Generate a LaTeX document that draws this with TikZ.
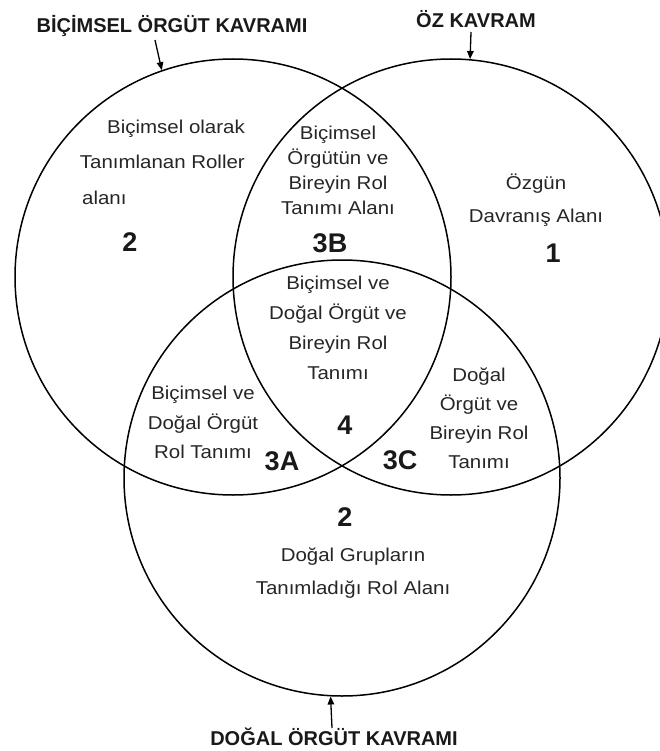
\documentclass[tikz,border=0pt]{standalone}
\usepackage{fontspec}
\setmainfont{Liberation Sans}[FakeStretch=1.1]
\newfontfamily\plainsans{Liberation Sans}
\usetikzlibrary{arrows.meta}
\begin{document}
\begin{tikzpicture}[x=1pt,y=-1pt,
  ring/.style={circle, draw, line width=1.5pt, inner sep=0pt, minimum size=436pt},
  txt/.style={align=center, inner sep=0pt, text=black!85},
  num/.style={font=\plainsans\fontsize{27}{30}\selectfont\bfseries, inner sep=0pt, text=black!90},
  title/.style={font=\plainsans\fontsize{20}{22}\selectfont\bfseries, inner sep=0pt, text=black!90},
  pointer/.style={-{Triangle[length=8pt,width=6.5pt]}, line width=1.3pt}]
\useasboundingbox (0,0) rectangle (659,751);
% circles
\node[ring] (L) at (233,277) {};
\node[ring] (R) at (451,277) {};
\node[ring] (B) at (342,478) {};
% titles and pointers
\node[title] (tL) at (172,26) {BİÇİMSEL ÖRGÜT KAVRAMI};
\node[title] (tR) at (476,19) {ÖZ KAVRAM};
\node[title] (tB) at (334,737) {DOĞAL ÖRGÜT KAVRAMI};
\coordinate (sL) at (155,40);
\coordinate (sR) at (471,32);
\coordinate (sB) at (332,728);
\draw[pointer] (sL) -- (L.109.6);
\draw[pointer] (sR) -- (R.85);
\draw[pointer] (sB) -- (B.267.4);
% region texts
\node[txt, anchor=east, font=\fontsize{18.6}{35}\selectfont, align=right] (tA) at (245,144.5) {Biçimsel olarak\\Tanımlanan Roller};
\node[txt, anchor=west, font=\fontsize{18.6}{35}\selectfont] (tAl) at (82,198) {alanı};
\node[num] (n2a) at (130,242) {2};
\node[txt, font=\fontsize{18.6}{25}\selectfont] (t3B) at (338,170) {Biçimsel\\Örgütün ve\\Bireyin Rol\\Tanımı Alanı};
\node[num] (n3B) at (330,243) {3B};
\node[txt, font=\fontsize{18.6}{33}\selectfont] (t1) at (536,200) {Özgün\\Davranış Alanı};
\node[num] (n1) at (553,253) {1};
\node[txt, font=\fontsize{18.6}{30}\selectfont] (t4) at (338,328) {Biçimsel ve\\Doğal Örgüt ve\\Bireyin Rol\\Tanımı};
\node[num] (n4) at (345,425) {4};
\node[txt, font=\fontsize{18.6}{29.5}\selectfont] (t3A) at (203,422.5) {Biçimsel ve\\Doğal Örgüt\\Rol Tanımı};
\node[num] (n3A) at (282,461) {3A};
\node[txt, font=\fontsize{18.6}{29}\selectfont] (t3C) at (479,418.5) {Doğal\\Örgüt ve\\Bireyin Rol\\Tanımı};
\node[num] (n3C) at (400,460) {3C};
\node[num] (n2b) at (345,517) {2};
\node[txt, font=\fontsize{18.6}{33}\selectfont] (t2b) at (353,573.5) {Doğal Grupların\\Tanımladığı Rol Alanı};
\end{tikzpicture}
\end{document}
